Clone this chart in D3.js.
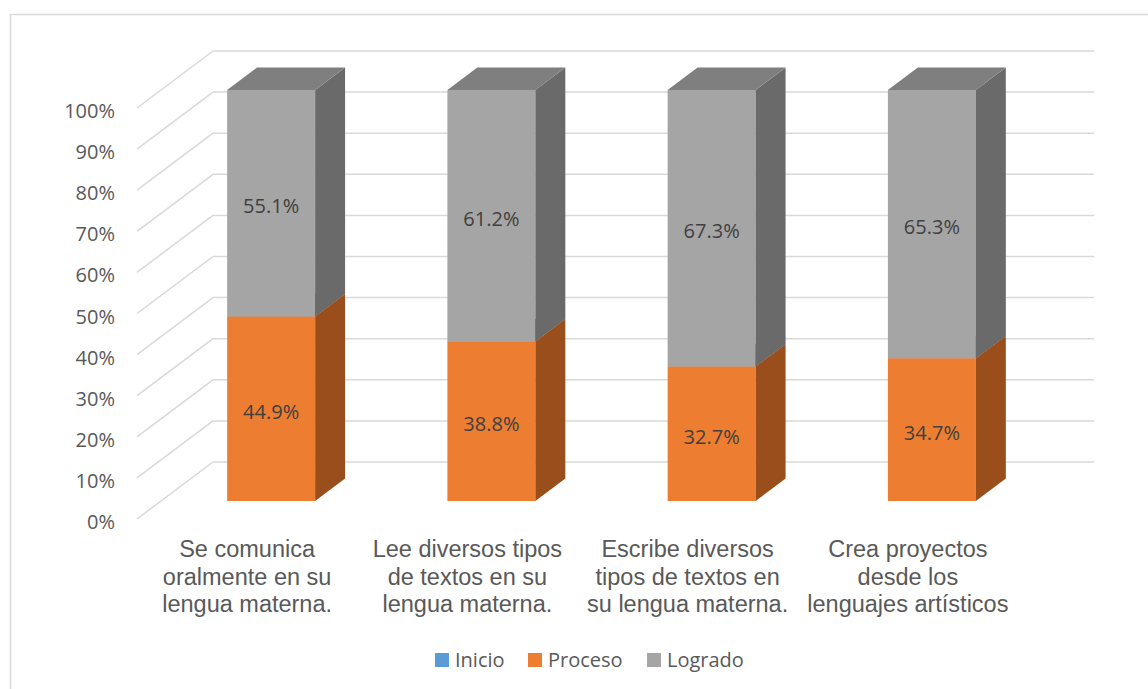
<!DOCTYPE html>
<html><head><meta charset="utf-8">
<script src="https://cdn.jsdelivr.net/npm/d3@7"></script>
<style>body{margin:0;background:#fff;}svg{display:block;}</style>
</head><body>
<svg id="c" width="1148" height="689"></svg>
<script>
const categories = [
  ["Se comunica","oralmente en su","lengua materna."],
  ["Lee diversos tipos","de textos en su","lengua materna."],
  ["Escribe diversos","tipos de textos en","su lengua materna."],
  ["Crea proyectos","desde los","lenguajes artísticos"]
];
const seriesNames = ["Inicio","Proceso","Logrado"];
const inicio  = [0, 0, 0, 0];
const proceso = [44.9, 38.8, 32.7, 34.7];
const logrado = [55.1, 61.2, 67.3, 65.3];
const yTicks = [0,10,20,30,40,50,60,70,80,90,100];

const svg = d3.select("#c");
const W = 1148, H = 689;
svg.append("rect").attr("x",10.5).attr("y",14.5).attr("width",W+20).attr("height",H+20)
  .attr("fill","#fff").attr("stroke","#d9d9d9").attr("stroke-width",1.5);

// 3D geometry
const DX = 76, DY = 57;           // floor depth projection (front -> back)
const xBack = d3.scaleBand().domain(d3.range(categories.length)).range([213,1094]);
const yB = d3.scaleLinear().domain([0,100]).range([462,51]);
const dFront = 0.316, dBackBar = 0.71, barW = 88;
const px = (x, d) => x - DX*(1-d);
const py = (y, d) => y + DY*(1-d);

// gridlines
const grid = svg.append("g");
yTicks.forEach(v=>{
  grid.append("line").attr("x1",213).attr("x2",1094).attr("y1",yB(v)).attr("y2",yB(v))
    .attr("stroke","#d9d9d9").attr("stroke-width",1.5);
  grid.append("line").attr("x1",px(213,0)).attr("y1",py(yB(v),0)).attr("x2",213).attr("y2",yB(v))
    .attr("stroke","#d9d9d9").attr("stroke-width",1.5);
  svg.append("text").attr("x",115).attr("y",py(yB(v),0)+3).attr("dy","0.35em")
    .attr("text-anchor","end").attr("font-family","Open Sans").attr("font-size",20)
    .attr("fill","#595959").text(v+"%");
});

const colors = {
  Inicio:  {front:"#5B9BD5", side:"#3C6E9C", top:"#4A85BC"},
  Proceso: {front:"#ED7D31", side:"#9A4E1C", top:"#C2611F"},
  Logrado: {front:"#A5A5A5", side:"#6A6A6A", top:"#7F7F7F"}
};
const vals = {Inicio:inicio, Proceso:proceso, Logrado:logrado};

const bars = svg.append("g");
const pathOf = pts => "M"+pts.map(p=>p.join(",")).join("L")+"Z";
categories.forEach((c,i)=>{
  const cx = xBack(i) + xBack.bandwidth()/2;
  let base = 0;
  seriesNames.forEach(s=>{
    const v = vals[s][i];
    if (v <= 0) return;
    const top = base + v;
    const xl = px(cx - barW/2, dFront), xr = px(cx + barW/2, dFront);
    const xrb = px(cx + barW/2, dBackBar), xlb = px(cx - barW/2, dBackBar);
    const yb = py(yB(base), dFront), yt = py(yB(top), dFront);
    const ybb = py(yB(base), dBackBar), ytb = py(yB(top), dBackBar);
    const col = colors[s];
    bars.append("path").attr("d", pathOf([[xl,yb],[xr,yb],[xr,yt],[xl,yt]])).attr("fill",col.front);
    bars.append("path").attr("d", pathOf([[xr,yb],[xrb,ybb],[xrb,ytb],[xr,yt]])).attr("fill",col.side);
    bars.append("path").attr("d", pathOf([[xl,yt],[xr,yt],[xrb,ytb],[xlb,ytb]])).attr("fill",col.top);
    bars.append("text").attr("x",(xl+xr)/2).attr("y",(yb+yt)/2+3).attr("dy","0.35em")
      .attr("text-anchor","middle").attr("font-family","Open Sans").attr("font-size",20)
      .attr("fill","#404040").text(v.toFixed(1)+"%");
    base = top;
  });
  // category label
  const lx = px(cx, 0);
  const t = svg.append("text").attr("text-anchor","middle").attr("font-family","Liberation Sans, Arial")
    .attr("font-size",23.5).attr("fill","#595959");
  c.forEach((line,k)=>{
    t.append("tspan").attr("x",lx).attr("y",557+k*27.5).text(line);
  });
});

// legend
const legendX = [435, 528, 647];
seriesNames.forEach((s,k)=>{
  svg.append("rect").attr("x",legendX[k]).attr("y",653).attr("width",14).attr("height",14)
    .attr("fill",colors[s].front);
  svg.append("text").attr("x",legendX[k]+20).attr("y",667).attr("font-family","Open Sans")
    .attr("font-size",20).attr("fill","#595959").text(s);
});
</script>
</body></html>
